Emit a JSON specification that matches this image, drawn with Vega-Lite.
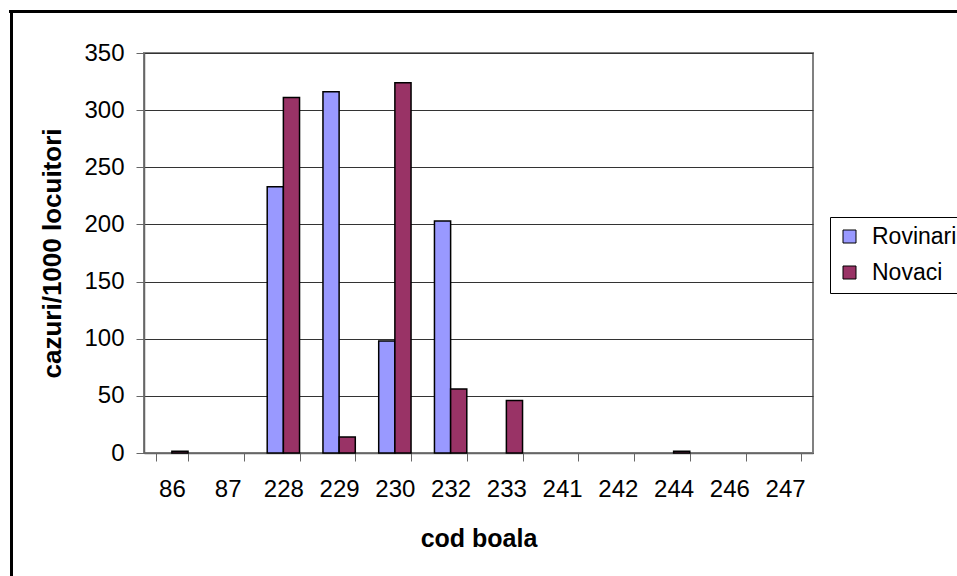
{
  "$schema": "https://vega.github.io/schema/vega-lite/v6.json",
  "width": 669,
  "height": 400,
  "autosize": {"type": "none"},
  "padding": {"left": 144, "top": 53, "right": 144, "bottom": 123},
  "background": "white",
  "config": {
    "font": "Liberation Sans",
    "view": {"stroke": "#808080", "strokeWidth": 2}
  },
  "data": {
    "values": [
      {"code": "86", "series": "Rovinari", "value": 0},
      {"code": "86", "series": "Novaci", "value": 1.5},
      {"code": "87", "series": "Rovinari", "value": 0},
      {"code": "87", "series": "Novaci", "value": 0},
      {"code": "228", "series": "Rovinari", "value": 233},
      {"code": "228", "series": "Novaci", "value": 311},
      {"code": "229", "series": "Rovinari", "value": 316},
      {"code": "229", "series": "Novaci", "value": 14},
      {"code": "230", "series": "Rovinari", "value": 98},
      {"code": "230", "series": "Novaci", "value": 324},
      {"code": "232", "series": "Rovinari", "value": 203},
      {"code": "232", "series": "Novaci", "value": 56},
      {"code": "233", "series": "Rovinari", "value": 0},
      {"code": "233", "series": "Novaci", "value": 46},
      {"code": "241", "series": "Rovinari", "value": 0},
      {"code": "241", "series": "Novaci", "value": 0},
      {"code": "242", "series": "Rovinari", "value": 0},
      {"code": "242", "series": "Novaci", "value": 0},
      {"code": "244", "series": "Rovinari", "value": 0},
      {"code": "244", "series": "Novaci", "value": 1.5},
      {"code": "246", "series": "Rovinari", "value": 0},
      {"code": "246", "series": "Novaci", "value": 0},
      {"code": "247", "series": "Rovinari", "value": 0},
      {"code": "247", "series": "Novaci", "value": 0}
    ]
  },
  "transform": [{"filter": "datum.value > 0"}],
  "layer": [
    {
      "mark": {"type": "bar", "stroke": "#000000", "strokeWidth": 1.5},
      "encoding": {
        "x": {
          "field": "code",
          "type": "ordinal",
          "scale": {
            "domain": ["86", "87", "228", "229", "230", "232", "233", "241", "242", "244", "246", "247"],
            "paddingInner": 0.42,
            "paddingOuter": 0.21
          },
          "axis": {
            "title": "cod boala",
            "titleFontSize": 25,
            "titleFontWeight": "bold",
            "titleColor": "#000000",
            "titlePadding": 25,
            "labelFontSize": 24,
            "labelColor": "#000000",
            "labelAngle": 0,
            "labelPadding": 16,
            "tickSize": 8,
            "tickColor": "#666666",
            "tickBand": "extent",
            "domainColor": "#666666",
            "domainWidth": 1.5,
            "grid": false
          }
        },
        "xOffset": {
          "field": "series",
          "type": "nominal",
          "sort": ["Rovinari", "Novaci"],
          "scale": {"paddingInner": 0, "paddingOuter": 0}
        },
        "y": {
          "field": "value",
          "type": "quantitative",
          "scale": {"domain": [0, 350], "nice": false},
          "axis": {
            "title": "cazuri/1000 locuitori",
            "titleFontSize": 26,
            "titleFontWeight": "bold",
            "titleColor": "#000000",
            "titlePadding": 18,
            "values": [0, 50, 100, 150, 200, 250, 300, 350],
            "labelFontSize": 24,
            "labelColor": "#000000",
            "labelPadding": 12,
            "tickSize": 8,
            "tickColor": "#666666",
            "domainColor": "#666666",
            "domainWidth": 1.5,
            "grid": true,
            "gridColor": "#333333",
            "gridWidth": 1
          }
        },
        "color": {
          "field": "series",
          "type": "nominal",
          "scale": {"domain": ["Rovinari", "Novaci"], "range": ["#9999FF", "#993366"]},
          "legend": {
            "title": null,
            "orient": "none",
            "legendX": 686,
            "legendY": 164,
            "symbolType": "square",
            "symbolSize": 169,
            "symbolStrokeColor": "#000000",
            "symbolStrokeWidth": 1,
            "symbolOpacity": 1,
            "labelFontSize": 23,
            "labelColor": "#000000",
            "labelOffset": 11,
            "rowPadding": 12,
            "padding": 8,
            "strokeColor": "#000000",
            "fillColor": "#ffffff"
          }
        }
      }
    },
    {
      "mark": {"type": "point", "opacity": 0},
      "encoding": {
        "x": {
          "field": "code",
          "type": "ordinal",
          "scale": {"type": "point", "range": [-135.5, 813]},
          "axis": {
            "orient": "top",
            "offset": 42,
            "labels": false,
            "ticks": false,
            "title": null,
            "grid": false,
            "domainColor": "#000000",
            "domainWidth": 3
          }
        },
        "y": {
          "field": "value",
          "type": "quantitative",
          "scale": {"range": [523, -43.5]},
          "axis": {
            "orient": "left",
            "offset": 133,
            "labels": false,
            "ticks": false,
            "title": null,
            "grid": false,
            "domainColor": "#000000",
            "domainWidth": 3
          }
        }
      }
    }
  ],
  "resolve": {"scale": {"x": "independent", "y": "independent"}}
}
